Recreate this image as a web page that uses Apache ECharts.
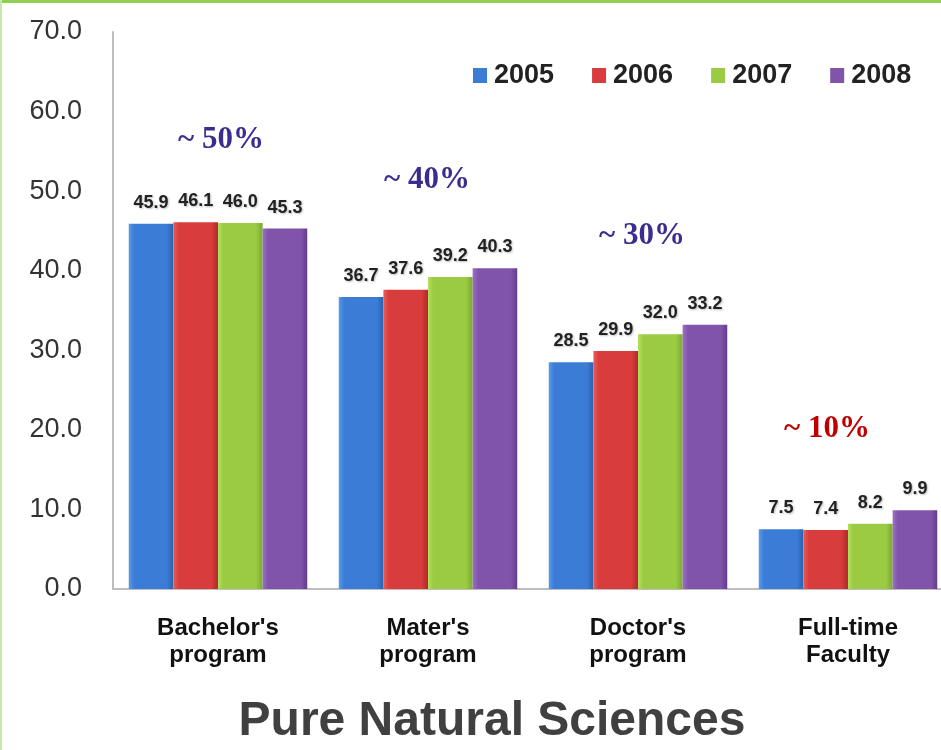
<!DOCTYPE html>
<html>
<head>
<meta charset="utf-8">
<script src="https://cdn.jsdelivr.net/npm/echarts@6/dist/echarts.min.js"></script>
<style>
  html, body { margin: 0; padding: 0; background: #fff; }
  #main { width: 941px; height: 750px; }
</style>
</head>
<body>
<div id="main"></div>
<script>
// data
var categories = ["Bachelor's\nprogram", "Mater's\nprogram", "Doctor's\nprogram", "Full-time\nFaculty"];
var years = ['2005', '2006', '2007', '2008'];
var values2005 = [45.9, 36.7, 28.5, 7.5];
var values2006 = [46.1, 37.6, 29.9, 7.4];
var values2007 = [46.0, 39.2, 32.0, 8.2];
var values2008 = [45.3, 40.3, 33.2, 9.9];
var yTicks = [0, 10, 20, 30, 40, 50, 60, 70];

var seriesData = [values2005, values2006, values2007, values2008];
// base, light edge, dark edge
var palette = [
  ['#3b7dd6', '#5a9ae8', '#2a62ae'],
  ['#d83c3c', '#ea5c5c', '#b02a2a'],
  ['#9acb42', '#b4df60', '#7ba830'],
  ['#8154ac', '#9a70c4', '#633d8c']
];

function barColor(c) {
  return new echarts.graphic.LinearGradient(0, 0, 1, 0, [
    { offset: 0, color: c[1] },
    { offset: 0.12, color: c[0] },
    { offset: 0.85, color: c[0] },
    { offset: 1, color: c[2] }
  ]);
}

var chart = echarts.init(document.getElementById('main'));

var series = years.map(function (y, i) {
  return {
    name: y,
    type: 'bar',
    data: seriesData[i],
    barGap: '0%',
    barCategoryGap: '15%',
    itemStyle: { color: barColor(palette[i]) },
    label: {
      show: true,
      position: 'top',
      distance: 12,
      fontFamily: 'Liberation Sans, Arial, sans-serif',
      fontWeight: 'bold',
      fontSize: 18,
      color: '#222',
      textShadowColor: 'rgba(0,0,0,0.25)',
      textShadowBlur: 2,
      textShadowOffsetX: 1,
      textShadowOffsetY: 1,
      formatter: function (p) { return p.value.toFixed(1); }
    }
  };
});

var option = {
  animation: false,
  grid: { left: 113, top: 32, width: 840, height: 557, outerBoundsMode: 'none' },
  legend: {
    data: years.map(function (y, i) {
      return { name: y, itemStyle: { color: palette[i][0] } };
    }),
    left: 468,
    top: 57,
    icon: 'rect',
    itemWidth: 14,
    itemHeight: 15,
    itemGap: 38,
    textStyle: {
      fontFamily: 'Liberation Sans, Arial, sans-serif',
      fontWeight: 'bold',
      fontSize: 27,
      color: '#222',
      padding: [0, 0, 0, 2]
    }
  },
  xAxis: {
    type: 'category',
    data: categories,
    axisLine: { lineStyle: { color: '#bdbdbd', width: 2 } },
    axisTick: { show: false },
    axisLabel: {
      margin: 26,
      fontFamily: 'Liberation Sans, Arial, sans-serif',
      fontWeight: 'bold',
      fontSize: 24,
      lineHeight: 27,
      color: '#111'
    }
  },
  yAxis: {
    type: 'value',
    min: yTicks[0],
    max: yTicks[yTicks.length - 1],
    interval: 10,
    axisLine: { show: true, lineStyle: { color: '#bdbdbd', width: 2 } },
    axisTick: { show: false },
    splitLine: { show: false },
    axisLabel: {
      margin: 31,
      fontFamily: 'Liberation Sans, Arial, sans-serif',
      fontSize: 27,
      color: '#333',
      formatter: function (v) { return v.toFixed(1); }
    }
  },
  graphic: [
    { type: 'rect', left: 0, top: 0, shape: { width: 941, height: 3 }, style: { fill: '#8fd14f' } },
    { type: 'rect', left: 0, top: 0, shape: { width: 2, height: 750 }, style: { fill: '#c9e8ad' } },
    { type: 'text', x: 221, y: 140, style: { text: '~ 50%', fill: '#3b2d8f', font: 'bold 31px "Liberation Serif", "Times New Roman", serif', align: 'center', verticalAlign: 'middle' } },
    { type: 'text', x: 427, y: 180, style: { text: '~ 40%', fill: '#3b2d8f', font: 'bold 31px "Liberation Serif", "Times New Roman", serif', align: 'center', verticalAlign: 'middle' } },
    { type: 'text', x: 642, y: 236, style: { text: '~ 30%', fill: '#3b2d8f', font: 'bold 31px "Liberation Serif", "Times New Roman", serif', align: 'center', verticalAlign: 'middle' } },
    { type: 'text', x: 827, y: 429, style: { text: '~ 10%', fill: '#c00000', font: 'bold 31px "Liberation Serif", "Times New Roman", serif', align: 'center', verticalAlign: 'middle' } },
    { type: 'text', x: 492, y: 722, style: { text: 'Pure Natural Sciences', fill: '#404040', font: 'bold 48px "Liberation Sans", Arial, sans-serif', align: 'center', verticalAlign: 'middle' } }
  ],
  series: series
};

chart.setOption(option);
</script>
</body>
</html>
